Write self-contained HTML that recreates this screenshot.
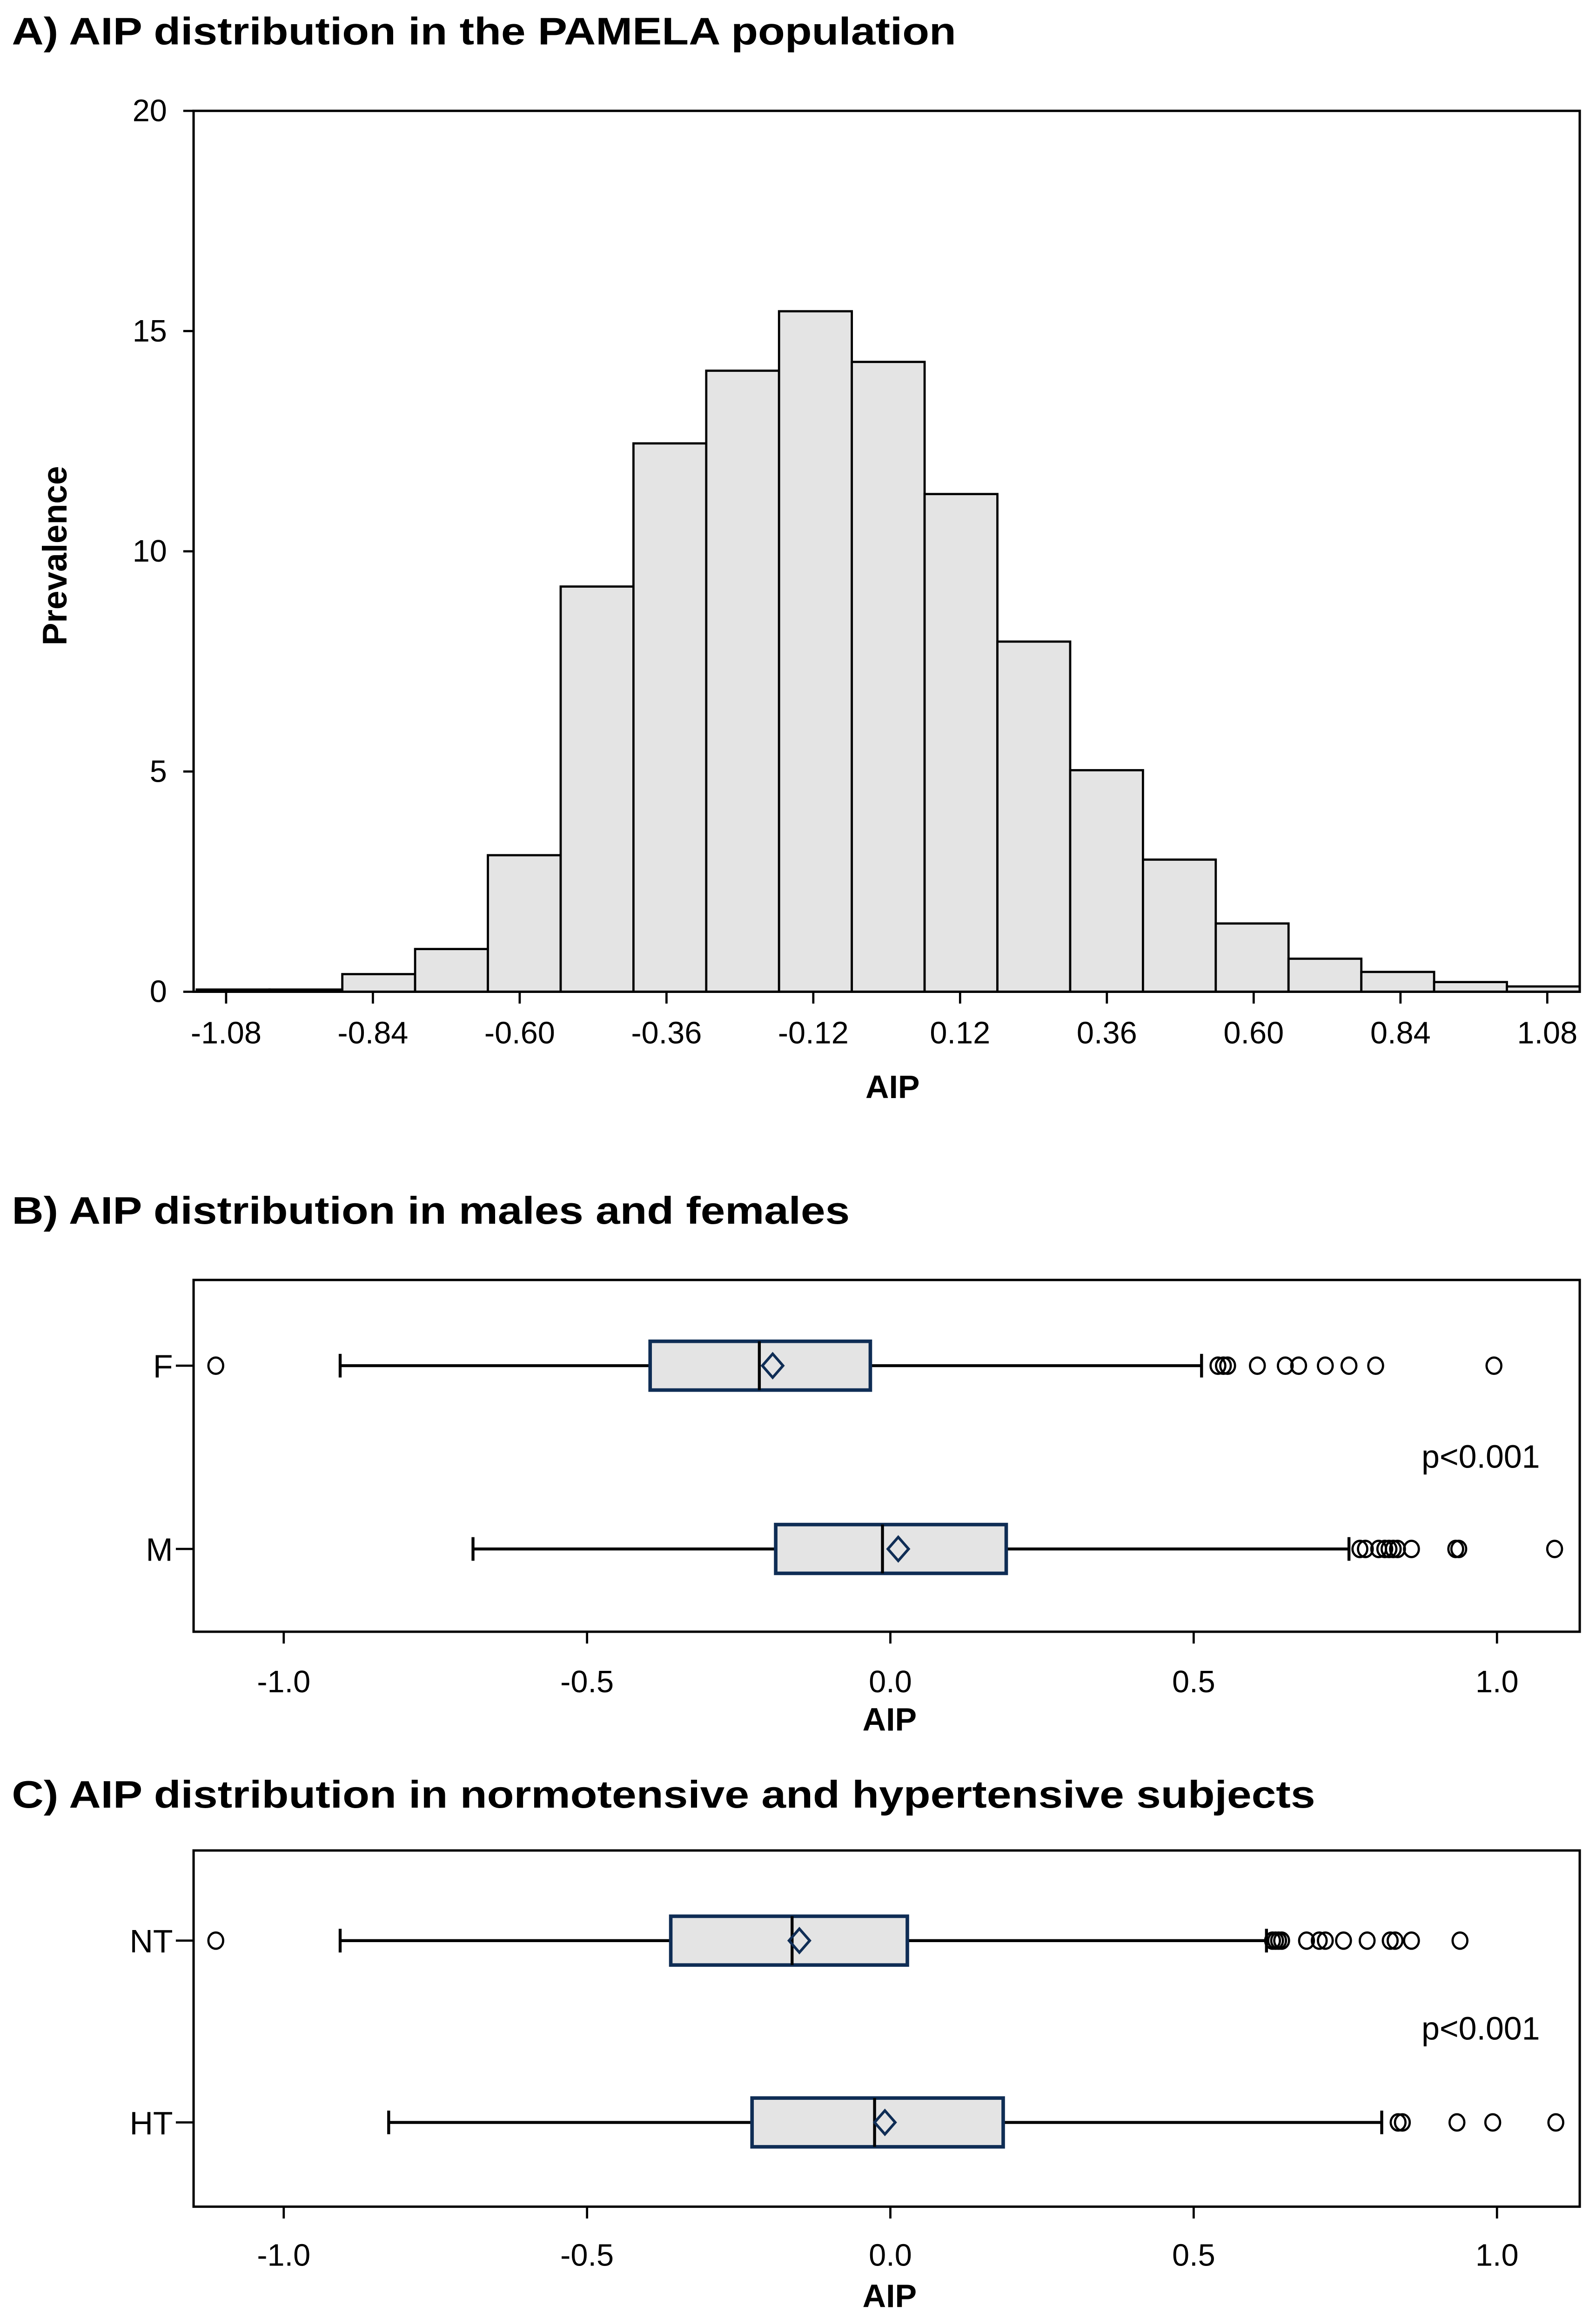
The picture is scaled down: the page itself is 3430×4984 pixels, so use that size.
<!DOCTYPE html>
<html><head><meta charset="utf-8"><style>html,body{margin:0;padding:0;background:#fff}svg{display:block}</style></head>
<body>
<svg id="fig" width="3430" height="4984" viewBox="0 0 1080 1569" preserveAspectRatio="none" xmlns="http://www.w3.org/2000/svg" font-family="'Liberation Sans', Arial, sans-serif">
<rect width="1080" height="1569" fill="#fff"/>
<text x="8" y="30" font-size="26" font-weight="bold" textLength="639" lengthAdjust="spacingAndGlyphs">A) AIP distribution in the PAMELA population</text>
<text x="8" y="828" font-size="26" font-weight="bold" textLength="567" lengthAdjust="spacingAndGlyphs">B) AIP distribution in males and females</text>
<text x="8" y="1223" font-size="26" font-weight="bold" textLength="882" lengthAdjust="spacingAndGlyphs">C) AIP distribution in normotensive and hypertensive subjects</text>
<g id="histA"></g>
<g id="boxB"></g>
<g id="boxC"></g>
</svg>
<script>
const histStart = -1.128;
const histBinWidth = 0.119;
const histValues = [0.05,0.05,0.4,0.97,3.1,9.2,12.45,14.1,15.45,14.3,11.3,7.95,5.03,3.0,1.55,0.75,0.45,0.22,0.12];
const histXTicks = [-1.08,-0.84,-0.60,-0.36,-0.12,0.12,0.36,0.60,0.84,1.08];
const histYTicks = [0,5,10,15,20];

const sexGroups = ['F','M'];
const sexStats = [[-0.907,-0.396,-0.216,-0.033,0.513],[-0.688,-0.189,-0.013,0.191,0.756]];
const sexMeans = [-0.194,0.013];
const sexOutliers = [[-1.112,0.540,0.549,0.556,0.605,0.651,0.673,0.717,0.756,0.800,0.995],
 [0.774,0.783,0.805,0.815,0.822,0.829,0.836,0.859,0.932,0.937,1.095]];
const bpGroups = ['NT','HT'];
const bpStats = [[-0.907,-0.362,-0.162,0.028,0.620],[-0.827,-0.228,-0.026,0.186,0.81]];
const bpMeans = [-0.15,-0.009];
const bpOutliers = [[-1.112,0.63,0.635,0.64,0.645,0.686,0.707,0.717,0.747,0.786,0.824,0.832,0.859,0.939],
 [0.837,0.844,0.934,0.993,1.097]];
const boxXTicks = [-1.0,-0.5,0.0,0.5,1.0];
const boxTickLabels = ['-1.0','-0.5','0.0','0.5','1.0'];

const NS='http://www.w3.org/2000/svg';
function mk(parent,tag,attrs,text){const e=document.createElementNS(NS,tag);for(const k in attrs)e.setAttribute(k,attrs[k]);if(text!==undefined)e.textContent=text;parent.appendChild(e);return e;}

// Panel A
(function(){
 const g=document.getElementById('histA');
 const L=131,R=1069,T=75,B=671;
 const x=v=>153+(v+1.08)*413.9;
 const y=v=>B-(v/20)*(B-T);
 histValues.forEach((v,i)=>{
  const x0=x(histStart+i*histBinWidth), x1=Math.min(R,x(histStart+(i+1)*histBinWidth));
  const r=mk(g,'rect',{x:x0,y:y(v),width:x1-x0,height:B-y(v),fill:'#e4e4e4',stroke:'#000','stroke-width':1.5});
  
  
 });
 const f=mk(g,'rect',{x:L,y:T,width:R-L,height:B-T,fill:'none',stroke:'#000','stroke-width':1.6});
 
 histYTicks.forEach(t=>{
  mk(g,'line',{x1:124,x2:L,y1:y(t),y2:y(t),stroke:'#000','stroke-width':1.5});
  const tx=mk(g,'text',{x:113,y:y(t)+7,'font-size':21,'text-anchor':'end'},String(t));
  
 });
 histXTicks.forEach(t=>{
  mk(g,'line',{x1:x(t),x2:x(t),y1:B,y2:B+8,stroke:'#000','stroke-width':1.5});
  const tx=mk(g,'text',{x:x(t),y:706,'font-size':21,'text-anchor':'middle'},t.toFixed(2));
  
 });
 const xl=mk(g,'text',{x:604,y:743,'font-size':22,'font-weight':'bold','text-anchor':'middle'},'AIP');
 
 const yl=mk(g,'text',{x:0,y:0,'font-size':23,'font-weight':'bold','text-anchor':'middle',transform:'translate(45,376) rotate(-90)'},'Prevalence');
 
})();

function boxPanel(id,T,B,rowY,groups,stats,means,outs,labY,titleY,pY){
 const g=document.getElementById(id);
 const L=131,R=1069;
 const x=v=>602.5+v*410.5;
 const f=mk(g,'rect',{x:L,y:T,width:R-L,height:B-T,fill:'none',stroke:'#000','stroke-width':1.6});
 
 groups.forEach((name,i)=>{
  const cy=rowY[i], s=stats[i], h=16.5;
  mk(g,'line',{x1:119,x2:L,y1:cy,y2:cy,stroke:'#000','stroke-width':1.5});
  const lb=mk(g,'text',{x:117,y:cy+8,'font-size':22,'text-anchor':'end'},name);
  
  const w=mk(g,'line',{x1:x(s[0]),x2:x(s[4]),y1:cy,y2:cy,stroke:'#000','stroke-width':2});
  
  mk(g,'line',{x1:x(s[0]),x2:x(s[0]),y1:cy-8,y2:cy+8,stroke:'#000','stroke-width':2});
  mk(g,'line',{x1:x(s[4]),x2:x(s[4]),y1:cy-8,y2:cy+8,stroke:'#000','stroke-width':2});
  const bx=mk(g,'rect',{x:x(s[1]),y:cy-h,width:x(s[3])-x(s[1]),height:2*h,fill:'#e4e4e4',stroke:'#0f2d55','stroke-width':2.4});
  
  mk(g,'line',{x1:x(s[2]),x2:x(s[2]),y1:cy-h,y2:cy+h,stroke:'#000','stroke-width':2});
  const mx=x(means[i]);
  const d=mk(g,'polygon',{points:`${mx},${cy-8} ${mx+7},${cy} ${mx},${cy+8} ${mx-7},${cy}`,fill:'none',stroke:'#0f2d55','stroke-width':1.8});
  
  outs[i].forEach(o=>{
   const c=mk(g,'ellipse',{cx:x(o),cy:cy,rx:5,ry:5.5,fill:'none',stroke:'#000','stroke-width':1.5});
   
  });
 });
 boxXTicks.forEach((t,i)=>{
  mk(g,'line',{x1:x(t),x2:x(t),y1:B,y2:B+8,stroke:'#000','stroke-width':1.5});
  const tx=mk(g,'text',{x:x(t),y:labY,'font-size':21,'text-anchor':'middle'},boxTickLabels[i]);
  
 });
 const xl=mk(g,'text',{x:602,y:titleY,'font-size':22,'font-weight':'bold','text-anchor':'middle'},'AIP');
 
 const p=mk(g,'text',{x:1002,y:pY,'font-size':22,'text-anchor':'middle'},'p<0.001');
 
}
boxPanel('boxB',866,1104,[924,1048],sexGroups,sexStats,sexMeans,sexOutliers,1145,1171,993);
boxPanel('boxC',1252,1493,[1313,1436],bpGroups,bpStats,bpMeans,bpOutliers,1533,1561,1380);
</script>
</body></html>
